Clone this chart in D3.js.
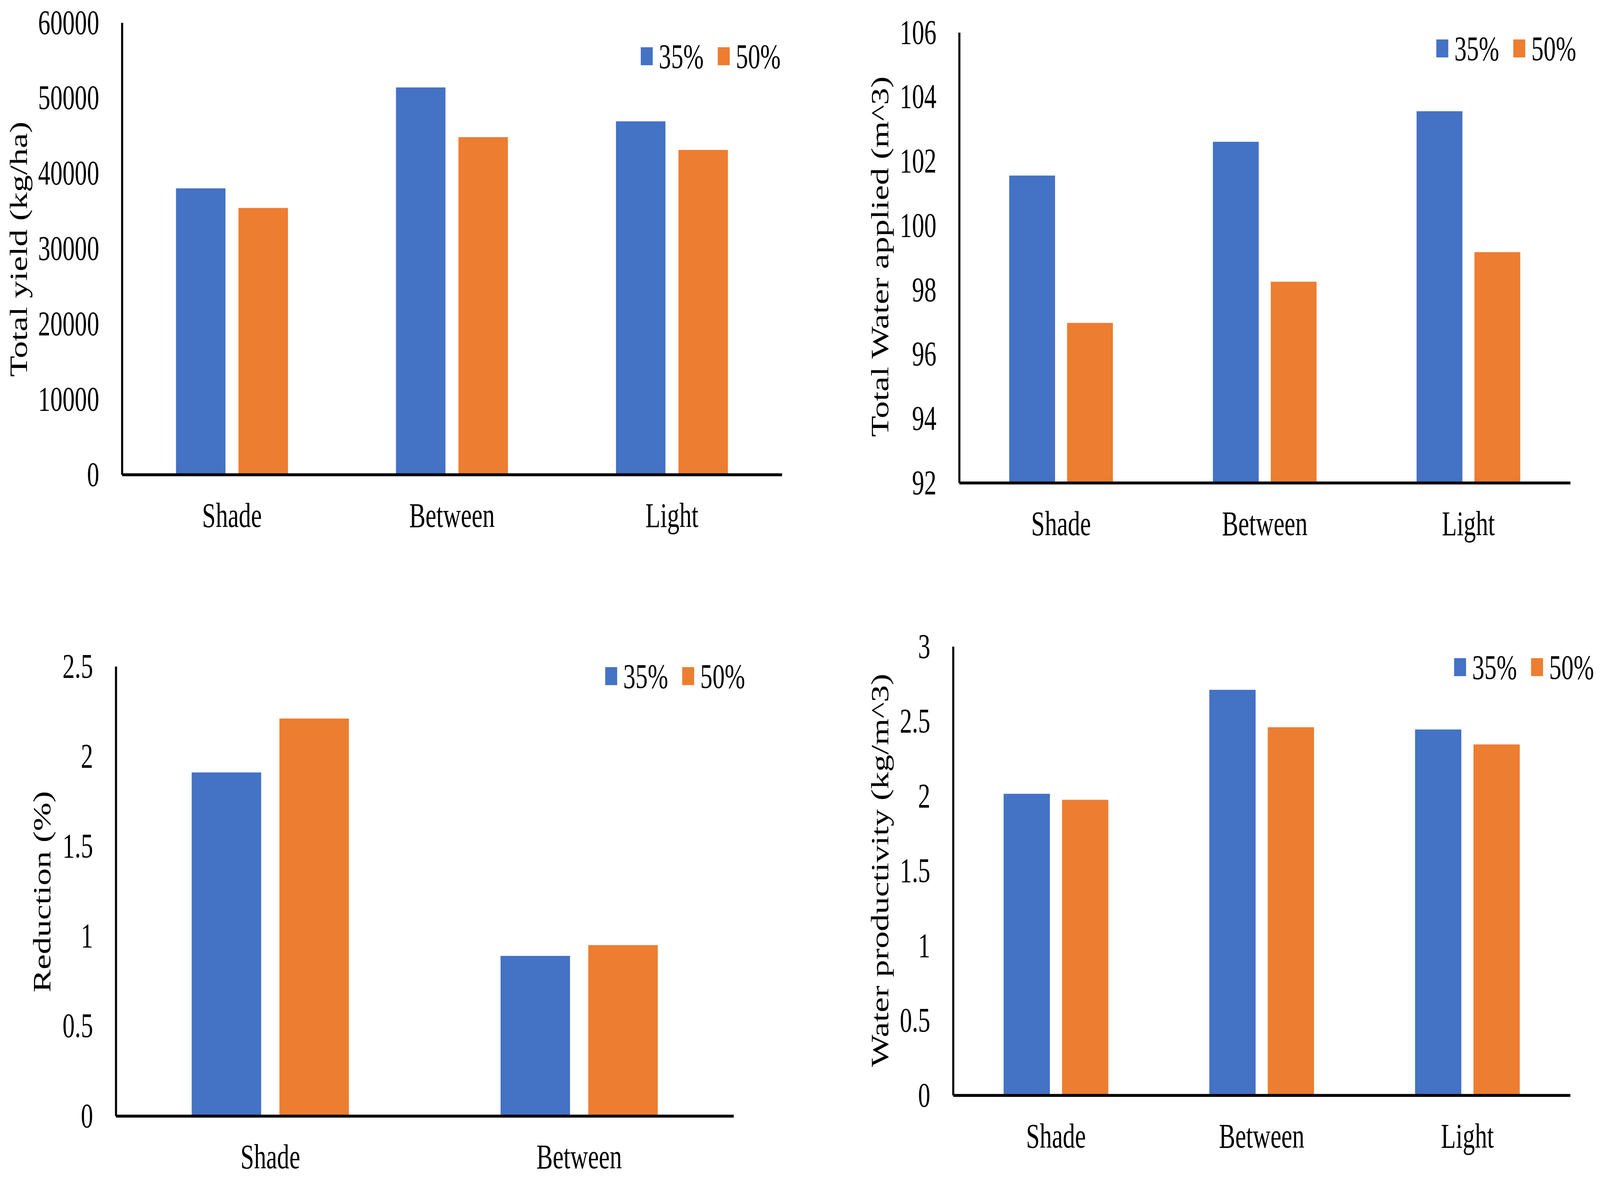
<!DOCTYPE html>
<html>
<head>
<meta charset="utf-8">
<script src="https://cdn.jsdelivr.net/npm/d3@7"></script>
<style>
  html, body { margin: 0; padding: 0; background: #fff; overflow: hidden; }
  svg { display: block; width: 100vw; height: 100vh; }
</style>
</head>
<body>
<svg id="chart"></svg>
<script>
// categories and series
const categories = ["Shade", "Between", "Light"];
const reductionCategories = ["Shade", "Between"];
const seriesNames = ["35%", "50%"];

// values
const yield35 = [38000, 51400, 46900];
const yield50 = [35400, 44800, 43100];
const water35 = [101.55, 102.6, 103.55];
const water50 = [96.97, 98.25, 99.17];
const reduction35 = [1.91, 0.89];
const reduction50 = [2.21, 0.95];
const productivity35 = [2.015, 2.71, 2.445];
const productivity50 = [1.975, 2.46, 2.345];

// tick labels
const yieldTicks = [0, 10000, 20000, 30000, 40000, 50000, 60000];
const waterTicks = [92, 94, 96, 98, 100, 102, 104, 106];
const reductionTicks = [0, 0.5, 1, 1.5, 2, 2.5];
const productivityTicks = [0, 0.5, 1, 1.5, 2, 2.5, 3];

const width = 5758;
const height = 3021;
const colors = ["#4472C4", "#ED7D31"];
const fontFamily = "'Liberation Serif', 'Times New Roman', serif";
const fontSize = 88;

// drawn in reference pixels, scaled to whatever the window is
const svg = d3.select("#chart")
    .attr("viewBox", `0 0 ${width} ${height}`)
    .attr("preserveAspectRatio", "none")
    .style("background", "#fff");

function drawPanel(opts) {
    const { left, top, bottom, right, cats, values, ticks, title, titleX, titleY, legendX, legendY } = opts;

    const g = svg.append("g");

    const x0 = d3.scaleBand().domain(cats).range([left, right]);
    const band = x0.bandwidth();
    const groupW = band * 0.509;
    const x1 = d3.scaleBand().domain(seriesNames).range([0, groupW]).paddingInner(0.208);

    const y = d3.scaleLinear().domain([ticks[0], ticks[ticks.length - 1]]).range([bottom, top]);

    // bars
    const rows = cats.map((c, i) => ({ cat: c, vals: seriesNames.map((s, k) => ({ s, k, v: values[k][i] })) }));
    g.selectAll("g.group")
        .data(rows)
        .join("g")
        .attr("class", "group")
        .attr("transform", d => `translate(${x0(d.cat) + (band - groupW) / 2},0)`)
        .selectAll("rect")
        .data(d => d.vals)
        .join("rect")
        .attr("x", d => x1(d.s))
        .attr("width", x1.bandwidth())
        .attr("y", d => y(d.v))
        .attr("height", d => y(ticks[0]) - y(d.v))
        .attr("fill", d => colors[d.k]);

    // y axis
    const yAxis = g.append("g")
        .attr("transform", `translate(${left},0)`)
        .call(d3.axisLeft(y).tickValues(ticks).tickFormat(d => String(d)).tickSize(0).tickPadding(82));
    yAxis.select(".domain").attr("stroke", "#000").attr("stroke-width", 7.5);
    yAxis.selectAll("text")
        .style("font-family", fontFamily)
        .style("font-size", fontSize + "px")
        .attr("fill", "#000");

    // x axis
    const xAxis = g.append("g")
        .attr("transform", `translate(0,${bottom})`)
        .call(d3.axisBottom(x0).tickSize(0).tickPadding(72));
    xAxis.select(".domain").attr("stroke", "#000").attr("stroke-width", 7.5);
    xAxis.selectAll("text")
        .style("font-family", fontFamily)
        .style("font-size", fontSize + "px")
        .attr("fill", "#000");

    // y axis title
    g.append("text")
        .attr("transform", `translate(${titleX},${titleY}) rotate(-90)`)
        .attr("text-anchor", "middle")
        .attr("dominant-baseline", "central")
        .style("font-family", fontFamily)
        .style("font-size", fontSize + "px")
        .attr("fill", "#000")
        .text(title);

    // legend
    const legend = g.append("g").attr("transform", `translate(${legendX},${legendY})`);
    const items = legend.selectAll("g")
        .data(seriesNames)
        .join("g")
        .attr("transform", (d, i) => `translate(${i * 277},0)`);
    items.append("rect")
        .attr("x", 0)
        .attr("y", -23)
        .attr("width", 43)
        .attr("height", 46)
        .attr("fill", (d, i) => colors[i]);
    items.append("text")
        .attr("x", 65)
        .attr("y", 0)
        .attr("dy", "0.34em")
        .style("font-family", fontFamily)
        .style("font-size", fontSize + "px")
        .attr("fill", "#000")
        .text(d => d);
}

drawPanel({
    left: 439, top: 58, bottom: 1215, right: 2814,
    cats: categories, values: [yield35, yield50], ticks: yieldTicks,
    title: "Total yield (kg/ha)", titleX: 68, titleY: 638,
    legendX: 2306, legendY: 144
});

drawPanel({
    left: 3452, top: 83, bottom: 1236, right: 5651,
    cats: categories, values: [water35, water50], ticks: waterTicks,
    title: "Total Water applied (m^3)", titleX: 3168, titleY: 657,
    legendX: 5169, legendY: 124
});

drawPanel({
    left: 417, top: 1706, bottom: 2857, right: 2640,
    cats: reductionCategories, values: [reduction35, reduction50], ticks: reductionTicks,
    title: "Reduction (%)", titleX: 152, titleY: 2283,
    legendX: 2178, legendY: 1731
});

drawPanel({
    left: 3430, top: 1655, bottom: 2804, right: 5651,
    cats: categories, values: [productivity35, productivity50], ticks: productivityTicks,
    title: "Water productivity (kg/m^3)", titleX: 3168, titleY: 2228,
    legendX: 5233, legendY: 1708
});
</script>
</body>
</html>
